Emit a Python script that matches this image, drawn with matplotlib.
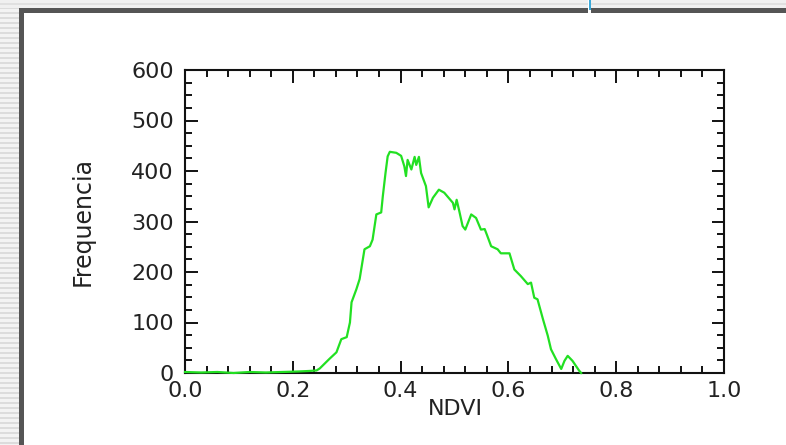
import matplotlib
matplotlib.use("Agg")
import matplotlib.pyplot as plt
from matplotlib.patches import Rectangle
from matplotlib.ticker import MultipleLocator

# NDVI histogram values
ndvi = [0.00, 0.03, 0.06, 0.09, 0.12, 0.15, 0.18, 0.21, 0.23, 0.244,
        0.25, 0.268, 0.281, 0.29, 0.30, 0.306, 0.309, 0.318, 0.324, 0.333,
        0.343, 0.348, 0.355, 0.364, 0.367, 0.372, 0.376, 0.38, 0.392, 0.401,
        0.407, 0.41, 0.413, 0.42, 0.426, 0.429, 0.434, 0.438, 0.447, 0.452,
        0.46, 0.471, 0.481, 0.497, 0.50, 0.504, 0.509, 0.515, 0.52, 0.531,
        0.54, 0.549, 0.556, 0.56, 0.568, 0.58, 0.586, 0.602, 0.611, 0.623,
        0.636, 0.642, 0.648, 0.654, 0.664, 0.673, 0.679, 0.688, 0.698, 0.704,
        0.71, 0.719, 0.731, 0.735]
freq = [2, 1, 2, 0, 2, 1, 2, 3, 4, 5,
        9, 28, 41, 67, 71, 100, 140, 166, 186, 245,
        251, 264, 314, 318, 350, 396, 429, 438, 436, 430,
        409, 390, 422, 403, 428, 412, 428, 396, 370, 328,
        347, 363, 357, 337, 324, 343, 320, 291, 284, 314,
        307, 284, 285, 274, 251, 245, 237, 237, 205, 192,
        176, 179, 149, 146, 107, 74, 47, 28, 8, 24,
        34, 24, 5, 0]

xticks = [0.0, 0.2, 0.4, 0.6, 0.8, 1.0]
xticklabels = ["0.0", "0.2", "0.4", "0.6", "0.8", "1.0"]
yticks = [0, 100, 200, 300, 400, 500, 600]

W, H = 786, 445
fig = plt.figure(figsize=(W / 100, H / 100), dpi=100)
fig.patch.set_facecolor("white")

# slide frame drawn in pixel coordinates
bg = fig.add_axes([0, 0, 1, 1])
bg.set_xlim(0, W)
bg.set_ylim(H, 0)
bg.axis("off")
bg.add_patch(Rectangle((0, 0), 19, H, color="#f3f3f3", lw=0))
for yy in range(2, H, 5):
    bg.add_patch(Rectangle((0, yy), 19, 2, color="#dcdcdc", lw=0))
bg.add_patch(Rectangle((0, 0), W, 8, color="#f0f0f0", lw=0))
bg.add_patch(Rectangle((0, 3), W, 2, color="#e0e0e0", lw=0))
bg.add_patch(Rectangle((19, 8), 5, H - 8, color="#555555", lw=0))
bg.add_patch(Rectangle((19, 8), W - 19, 5, color="#555555", lw=0))
bg.add_patch(Rectangle((588, 0), 3, 13, color="white", lw=0))
bg.add_patch(Rectangle((589, 0), 1.5, 10, color="#3aa8d8", lw=0))

ax = fig.add_axes([185 / W, 1 - 373 / H, (724 - 185) / W, (373 - 70) / H])
ax.plot(ndvi, freq, color="#22e022", lw=1.6, zorder=3, clip_on=False)

ax.set_xlim(0, 1)
ax.set_ylim(0, 600)
ax.set_xticks(xticks)
ax.set_xticklabels(xticklabels)
ax.set_yticks(yticks)
ax.xaxis.set_minor_locator(MultipleLocator(0.04))
ax.yaxis.set_minor_locator(MultipleLocator(25))
ax.tick_params(which="both", direction="in", top=True, right=True,
               width=1.4, color="#111111", labelsize=16, labelcolor="#222222")
ax.tick_params(which="major", length=9)
ax.tick_params(which="minor", length=5)
ax.tick_params(axis="y", pad=8)
ax.tick_params(axis="x", pad=6)
for s in ax.spines.values():
    s.set_linewidth(1.5)
    s.set_color("#111111")

fig.text(455 / W, 1 - 409 / H, "NDVI", ha="center", va="center",
         fontsize=16, color="#222222")
fig.text(83 / W, 1 - 222 / H, "Frequencia", ha="center", va="center",
         rotation=90, fontsize=17, color="#222222")

fig.savefig("out.png", dpi=100)
